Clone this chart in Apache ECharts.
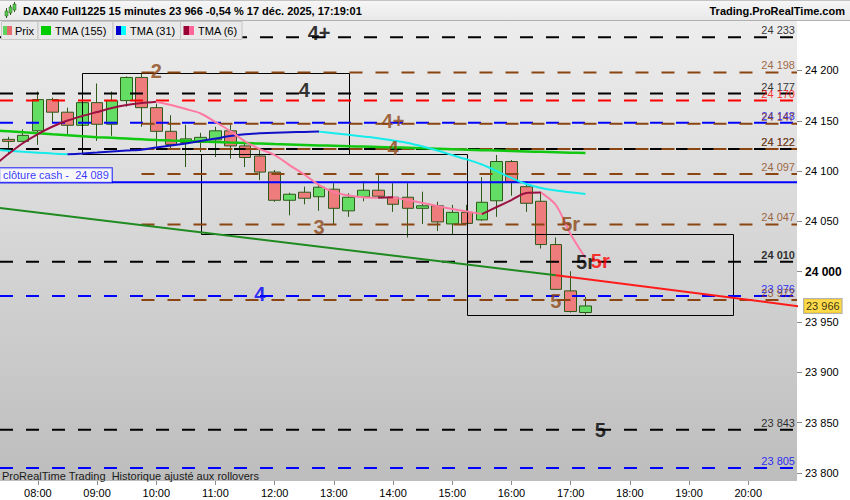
<!DOCTYPE html>
<html><head><meta charset="utf-8">
<script src="https://cdn.jsdelivr.net/npm/echarts@6/dist/echarts.min.js"></script>
<style>html,body{margin:0;padding:0;background:#fff;}#c{width:850px;height:500px;}</style>
</head><body><div id="c"></div>
<script>
const FONT = '"Liberation Sans", Arial, sans-serif';

// ---- price candles (15 min) ----
const candleTimes = ['07:30','07:45','08:00','08:15','08:30','08:45','09:00','09:15','09:30','09:45',
  '10:00','10:15','10:30','10:45','11:00','11:15','11:30','11:45','12:00','12:15','12:30','12:45',
  '13:00','13:15','13:30','13:45','14:00','14:15','14:30','14:45','15:00','15:15','15:30','15:45',
  '16:00','16:15','16:30','16:45','17:00','17:15'];
const opens  = [24131.5,24129.5,24140,24171,24158.5,24145.5,24168,24146.5,24170,24193,24163,24139.5,24128.5,24128.5,24131,24140,24125,24115,24099,24071,24079,24074.5,24082,24060.5,24074.5,24081,24074,24074,24063,24065.5,24047.5,24059,24051.5,24070.5,24109.5,24084.5,24070,24027,23981,23959.5];
const closes = [24129.5,24135.5,24171,24158.5,24145.5,24168,24146.5,24170,24193,24163,24139.5,24126.5,24132,24133.5,24140,24125,24113.5,24099,24071,24077,24073,24084,24063,24074,24081,24075,24067,24063,24065.5,24049.5,24059,24048,24069,24109.5,24089.5,24068,24027,23982.5,23960.5,23966];
const lows   = [24118,24129,24126,24147.5,24136,24131,24130,24135,24164,24144,24124,24121.5,24104,24119,24114,24112.5,24104,24091,24069.5,24056,24067,24060.5,24046.5,24054.5,24070,24073,24059.5,24034,24047.5,24040.5,24037.5,24047.5,24050.5,24054.5,24075.5,24059.5,24023,23982,23959.5,23957.5];
const highs  = [24134,24141.5,24179,24173,24163,24178,24187,24179,24194,24197,24167,24155.5,24146,24138,24144,24146,24129,24121,24101,24078.5,24084.5,24086,24088,24078,24090,24096,24088,24088,24079.5,24069.5,24066.5,24066.5,24094,24116,24111,24090,24078,24034,24000.5,23975];

// ---- moving averages ----
const tmaTimes = ['07:15'].concat(candleTimes);
const tma155 = [24140.4,24139.5,24138.5,24137.5,24136.5,24135.6,24134.7,24133.7,24133.0,24132.3,24131.6,24130.9,24130.3,24129.9,24129.4,24128.9,24128.3,24127.8,24127.3,24126.8,24126.4,24126.0,24125.5,24125.1,24124.7,24124.3,24123.9,24123.5,24123.1,24122.6,24122.2,24121.7,24121.2,24120.8,24120.4,24119.9,24119.5,24119.1,24118.7,24118.3,24117.9];
const tma31 = [24121.3,24120.3,24119.2,24118.3,24117.4,24116.6,24117.4,24118.4,24119.5,24120.5,24121.3,24123.4,24125.4,24127.5,24129.9,24132.3,24134.8,24136.5,24137.5,24138.2,24138.6,24138.9,24139.2,24137.6,24136.0,24134.3,24132.6,24130.4,24127.9,24124.4,24120.4,24115.9,24111.5,24106.5,24100.0,24093.1,24087.1,24083.2,24080.7,24078.9,24077.2];
const tma6 = [24105.0,24116.9,24127.9,24136.8,24144.3,24150.2,24154.7,24158.7,24162.6,24165.6,24167.6,24168.9,24165.6,24161.6,24157.2,24148.7,24139.8,24129.4,24121.9,24115.9,24106.0,24096.6,24086.1,24079.2,24075.7,24074.0,24073.4,24073.9,24071.2,24068.3,24065.3,24062.3,24059.8,24057.3,24064.3,24071.2,24078.2,24078.6,24066.3,24037.3,24013.6];

// ---- horizontal levels ----
const levelValues = [24233,24198,24177,24170,24148,24147,24122,24122,24097,24047,24010,23976,23972,23843,23805];
const levelColors = ['black','brown','black','red','blue','brown','black','brown','brown','brown','black','blue','brown','black','blue'];
const levelStarts = ['full','09:45','full','full','full','09:45','full','09:45','09:45','09:45','full','full','09:45','full','full'];
const levelBold   = [false,false,false,false,false,false,false,false,false,false,true,false,false,false,false];
const cashClose = 24089;
const cashLabel = 'clôture cash -\u00a0 24 089';

// ---- boxes ----
const boxStart  = ['08:45','10:45','15:15'];
const boxEnd    = ['13:15','15:15','19:45'];
const boxTop    = [24197,24116.6,24037.2];
const boxBottom = [24116.6,24037.2,23957];

// ---- trend line ----
const trendTimes  = ['07:15','16:45','21:00'];
const trendValues = [24064,23996.5,23964.6];

// ---- text markers ----
const markerTexts  = ['4+','2','4','4+','4','3','5r','5r','5r','4','5','5'];
const markerTimes  = ['12:45','10:00','12:30','14:00','14:00','12:45','17:00','17:15','17:30','11:45','16:45','17:30'];
const markerValues = [24236.7,24199.4,24180.5,24149.7,24122.6,24044.6,24047.2,24009.9,24010.6,23978.3,23971.4,23842.7];
const markerColors = ['black','brown','black','brown','brown','brown','brown','black','red','blue','brown','black'];

// ---- axes ----
const yTicks = [23800,23850,23900,23950,24000,24050,24100,24150,24200];
const xTickLabels = ['08:00','09:00','10:00','11:00','12:00','13:00','14:00','15:00','16:00','17:00','18:00','19:00','20:00'];
const lastPrice = 23966;

const COL = {black:'#000000', brown:'#8B4513', red:'#ff0000', blue:'#0000ff'};
// time strings -> minutes since midnight
function ts(s){const p=s.split(':').map(Number);return p[0]*60+p[1]+(p[2]||0)/60;}
const xMin = ts('07:21:36'), xMax = ts('20:49:24');
const yMin = 23792.1, yMax = 24249.1;
function fmtNum(v){return String(v).replace(/\B(?=(\d{3})+(?!\d))/g,' ');}
function pad(n){return (n<10?'0':'')+n;}
function fmtTime(v){const m=Math.round(v);return pad(Math.floor(m/60))+':'+pad(m%60);}

const series = [];
// candles
series.push({
  type:'candlestick', z:2, barWidth:12,
  encode:{x:0,y:[1,2,3,4]},
  data: candleTimes.map((t,i)=>[ts(t),opens[i],closes[i],lows[i],highs[i]]),
  itemStyle:{color:'#63dd63', color0:'#ef7c7c', borderColor:'#2d5a18', borderColor0:'#2d5a18', borderWidth:1}
});
// levels
levelValues.forEach((v,i)=>{
  const s = levelStarts[i]==='full'? xMin : ts(levelStarts[i]);
  series.push({type:'line', z:3, symbol:'none', silent:true,
    data:[[s,v],[xMax,v]],
    lineStyle:{color:COL[levelColors[i]], width:2, type:[13,13]}});
});
series.push({type:'line', z:3, symbol:'none', silent:true,
  data:[[xMin,cashClose],[xMax,cashClose]], lineStyle:{color:'#0000ff', width:2}});
// right-side level labels
series.push({type:'scatter', z:6, symbolSize:0, silent:true,
  data: levelValues.map((v,i)=>({value:[xMax,v], label:{color:COL[levelColors[i]], fontWeight: levelBold[i]?'bold':'normal'}})),
  label:{show:true, position:'left', distance:2, offset:[0,-7], fontSize:11, fontFamily:FONT,
    formatter:p=>fmtNum(p.value[1])}
});
// cash close label
series.push({type:'scatter', z:7, symbolSize:0, silent:true, data:[[xMin,cashClose]],
  label:{show:true, position:'right', distance:0, offset:[0,-7], formatter:cashLabel,
    color:'#0000ff', fontSize:11, fontFamily:FONT, backgroundColor:'#ffffff', borderColor:'#0000ff',
    borderWidth:1, padding:[2,3,1,3]}});
// boxes
series.push({type:'custom', z:3, silent:true,
  data: boxStart.map((t,i)=>[ts(t),ts(boxEnd[i]),boxTop[i],boxBottom[i]]),
  encode:{x:[0,1], y:[2,3]},
  renderItem:(params,api)=>{
    const a = api.coord([api.value(0),api.value(2)]);
    const b = api.coord([api.value(1),api.value(3)]);
    const x0=Math.round(a[0])+0.5, y0=Math.round(a[1])+0.5, x1=Math.round(b[0])+0.5, y1=Math.round(b[1])+0.5;
    return {type:'rect', shape:{x:x0,y:y0,width:x1-x0,height:y1-y0}, style:{fill:'none', stroke:'#000', lineWidth:1}};
  }});
// trend line
series.push({type:'line', z:4, symbol:'none', silent:true,
  data:[[ts(trendTimes[0]),trendValues[0]],[ts(trendTimes[1]),trendValues[1]]], lineStyle:{color:'#1f8a1f', width:2}});
series.push({type:'line', z:4, symbol:'none', silent:true,
  data:[[ts(trendTimes[1]),trendValues[1]],[ts(trendTimes[2]),trendValues[2]]], lineStyle:{color:'#ff1a1a', width:2}});
// TMA lines
function runs(times, vals){
  const out=[]; let cur=null;
  for(let i=1;i<vals.length;i++){
    const dir = vals[i]>=vals[i-1]?'up':'down';
    if(!cur||cur.dir!==dir){cur={dir:dir,pts:[[ts(times[i-1]),vals[i-1]]]};out.push(cur);}
    cur.pts.push([ts(times[i]),vals[i]]);
  }
  return out;
}
series.push({type:'line', z:5, symbol:'none', silent:true, smooth:0.3,
  data: tmaTimes.map((t,i)=>[ts(t),tma155[i]]), lineStyle:{color:'#11c811', width:2.5}});
runs(tmaTimes,tma31).forEach(r=>series.push({type:'line', z:5, symbol:'none', silent:true, smooth:0.3,
  data:r.pts, lineStyle:{color: r.dir==='up'?'#1010c8':'#14ecec', width:2}}));
runs(tmaTimes,tma6).forEach(r=>series.push({type:'line', z:5, symbol:'none', silent:true, smooth:0.3,
  data:r.pts, lineStyle:{color: r.dir==='up'?'#9a1040':'#ff7aa2', width:2}}));
// text markers
series.push({type:'scatter', z:8, symbolSize:0, silent:true,
  data: markerTexts.map((t,i)=>({value:[ts(markerTimes[i]),markerValues[i]], name:t, label:{color:COL[markerColors[i]]}})),
  label:{show:true, position:'inside', fontSize:20, fontWeight:'bold', fontFamily:FONT, formatter:p=>p.name}});
// last price tag
series.push({type:'scatter', z:8, symbolSize:0, silent:true, data:[[xMax,lastPrice]],
  label:{show:true, position:'right', distance:7, formatter:fmtNum(lastPrice), color:'#000', fontSize:11, fontFamily:FONT,
    backgroundColor:'#ffd21f', borderColor:'#a0a0a0', borderWidth:1, padding:[2,2,1,2]}});

// ---- header / legend graphics ----
const graphic = [
  {type:'rect', z:100, shape:{x:0,y:0,width:850,height:21}, style:{fill:new echarts.graphic.LinearGradient(0,0,0,1,[{offset:0,color:'#f6f6f6'},{offset:1,color:'#e8e8e8'}])}},
  {type:'line', z:101, shape:{x1:0,y1:0.5,x2:850,y2:0.5}, style:{stroke:'#c4c4c4',lineWidth:1}},
  {type:'line', z:101, shape:{x1:0,y1:20.5,x2:850,y2:20.5}, style:{stroke:'#b0b0b0',lineWidth:1}},
  {type:'line', z:101, shape:{x1:6.5,y1:8,x2:6.5,y2:18}, style:{stroke:'#2d5a18'}},
  {type:'rect', z:102, shape:{x:5,y:11,width:3,height:5}, style:{fill:'#55cc55',stroke:'#2d5a18',lineWidth:0.5}},
  {type:'line', z:101, shape:{x1:10.5,y1:5,x2:10.5,y2:15}, style:{stroke:'#2d5a18'}},
  {type:'rect', z:102, shape:{x:9,y:7,width:3,height:6}, style:{fill:'#55cc55',stroke:'#2d5a18',lineWidth:0.5}},
  {type:'line', z:101, shape:{x1:14.5,y1:2,x2:14.5,y2:12}, style:{stroke:'#2d5a18'}},
  {type:'rect', z:102, shape:{x:13,y:4,width:3,height:6}, style:{fill:'#55cc55',stroke:'#2d5a18',lineWidth:0.5}},
  {type:'text', z:103, style:{text:'DAX40 Full1225 15 minutes 23 966 -0,54 % 17 déc. 2025, 17:19:01', x:23, y:11, fill:'#000',
    font:'bold 11px '+FONT, verticalAlign:'middle'}},
  {type:'text', z:103, style:{text:'Trading.ProRealTime.com', x:845, y:11, fill:'#000', align:'right',
    font:'bold 11px '+FONT, verticalAlign:'middle'}},
  {type:'text', z:103, style:{text:'ProRealTime Trading\u00a0 Historique ajusté aux rollovers', x:2, y:476, fill:'#1a1a1a',
    font:'11px '+FONT, verticalAlign:'middle'}}
];
const legendItems = [
  {x:1, w:36.5, c1:'#5fd35f', c2:'#e86b6b', sx:3, sw1:4, sw2:5, tx:15, text:'Prix'},
  {x:37.5, w:75, c1:'#00cc00', c2:'#00cc00', sx:41, sw1:5, sw2:5, tx:55, text:'TMA (155)'},
  {x:112.5, w:67.5, c1:'#0000cc', c2:'#00ffff', sx:116, sw1:5, sw2:5, tx:130, text:'TMA (31)'},
  {x:180, w:61.5, c1:'#990033', c2:'#ff6699', sx:183.5, sw1:5.5, sw2:5, tx:198, text:'TMA (6)'}
];
legendItems.forEach(l=>{
  graphic.push({type:'rect', z:110, shape:{x:l.x+0.5,y:21.5,width:l.w,height:18}, style:{fill:'#e9e9e9', stroke:'#c6c6c6', lineWidth:1}});
  graphic.push({type:'rect', z:111, shape:{x:l.sx,y:26,width:l.sw1,height:9}, style:{fill:l.c1}});
  graphic.push({type:'rect', z:111, shape:{x:l.sx+l.sw1,y:26,width:l.sw2,height:9}, style:{fill:l.c2}});
  graphic.push({type:'text', z:112, style:{text:l.text, x:l.tx, y:31, fill:'#000', font:'11px '+FONT, verticalAlign:'middle'}});
});

const chart = echarts.init(document.getElementById('c'), null, {renderer:'svg'});
chart.setOption({
  animation:false,
  backgroundColor:'#ffffff',
  grid:{left:0, right:53, top:21, bottom:19, show:true, borderWidth:0,
    backgroundColor:new echarts.graphic.LinearGradient(0,0,0,1,[{offset:0,color:'#ededed'},{offset:1,color:'#bdbdbd'}])},
  xAxis:{type:'value', min:xMin, max:xMax,
    axisLine:{show:false}, splitLine:{show:false},
    axisTick:{show:true, length:4, lineStyle:{color:'#8a8a8a'}, customValues:xTickLabels.map(t=>ts(t))},
    axisLabel:{customValues:xTickLabels.map(t=>ts(t)), formatter:v=>fmtTime(v), color:'#000', fontSize:11, fontFamily:FONT, margin:6}},
  yAxis:{type:'value', position:'right', min:yMin, max:yMax,
    axisLine:{show:false}, splitLine:{show:false},
    axisTick:{show:true, length:5, lineStyle:{color:'#8a8a8a'}, customValues:yTicks},
    axisLabel:{customValues:yTicks, color:'#000', fontSize:11, fontFamily:FONT, margin:8,
      formatter:v=> v===24000 ? '{b|'+fmtNum(v)+'}' : fmtNum(v),
      rich:{b:{fontWeight:'bold', fontSize:12, fontFamily:FONT, color:'#000'}}}},
  graphic: graphic,
  series: series
});
</script></body></html>
